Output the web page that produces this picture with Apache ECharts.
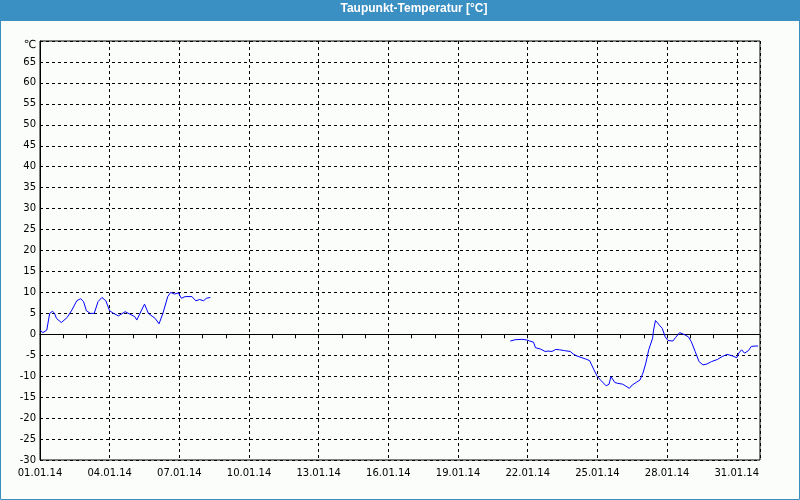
<!DOCTYPE html>
<html>
<head>
<meta charset="utf-8">
<script src="https://cdn.jsdelivr.net/npm/echarts@6/dist/echarts.min.js"></script>
<style>
html,body{margin:0;padding:0;background:#fbfdfb;}
#chart{width:800px;height:500px;}
</style>
</head>
<body>
<div id="chart"></div>
<script>
// Hours since 01.01.14 00:00 and dew point values [°C]
var seg1Hours = [0,3,7,10,13,15,17,22,28,33,38,42,45,48,52,56,60,64,68,72,76,81,88,93,98,100,105,108,112,119,123,127,132,135,139,143,146,150,157,161,165,169,172,176];
var seg1Temps = [1.0,0.4,1.0,5.0,5.5,5.0,3.8,2.8,4.0,5.8,8.0,8.5,7.8,5.6,5.0,5.0,7.8,8.8,8.0,5.6,5.0,4.4,5.4,4.8,4.2,3.4,5.8,7.2,5.0,3.8,2.5,5.0,9.0,10.0,9.6,9.9,8.6,9.0,9.0,8.0,8.3,8.0,8.6,8.8];
var seg2Hours = [486,491,498,503,506,510,512,517,522,525,529,533,537,542,548,551,555,560,564,568,570,573,576,580,585,588,590,592,594,597,602,605,609,612,616,620,623,626,629,633,634,636,638,640,643,646,649,654,657,661,666,670,673,677,681,685,689,694,696,700,705,710,715,720,722,725,728,732,735,739,742];
var seg2Temps = [-1.6,-1.3,-1.2,-1.35,-1.6,-1.9,-3.2,-3.5,-4.1,-4.0,-4.1,-3.6,-3.7,-3.9,-4.1,-4.7,-5.2,-5.6,-5.9,-6.3,-7.3,-8.75,-10.1,-11.1,-12.3,-11.9,-10.1,-10.5,-11.5,-11.7,-11.9,-12.3,-12.9,-12.1,-11.5,-10.9,-9.3,-6.9,-3.7,-0.95,1.0,3.3,3.2,2.2,1.4,-0.6,-1.5,-1.6,-0.7,0.4,-0.1,-0.6,-1.75,-4.1,-6.5,-7.3,-7.1,-6.5,-6.8,-6.0,-5.3,-4.8,-5.1,-5.6,-4.5,-3.7,-4.5,-3.9,-2.9,-2.8,-2.8];
var yMin = -30, yMax = 70, yStep = 5;
var dayCount = 31;

function pairs(hours, temps) {
  return hours.map(function (h, i) { return [h / 24, temps[i]]; });
}
function dayLabel(d) {
  var n = Math.round(d) + 1;
  return (n < 10 ? '0' + n : '' + n) + '.01.14';
}

var blue = '#3a8fc3';
var chart = echarts.init(document.getElementById('chart'), null, {renderer: 'canvas'});
var lineStyle = {color: '#0000ff', width: 1};
chart.setOption({
  backgroundColor: '#fbfdfb',
  animation: false,
  graphic: [
    {type: 'rect', z: -10, shape: {x: 0, y: 0, width: 800, height: 21}, style: {fill: blue}},
    {type: 'rect', z: -10, shape: {x: 0.5, y: 0.5, width: 799, height: 499}, style: {fill: null, stroke: blue, lineWidth: 1}}
  ],
  title: {
    text: 'Taupunkt-Temperatur [°C]',
    left: 414, top: 3, textAlign: 'center', padding: 0,
    textStyle: {color: '#ffffff', fontSize: 12, fontWeight: 'bold', fontFamily: 'Liberation Sans'}
  },
  grid: {left: 40, top: 41, right: 40, bottom: 40, show: true, borderColor: '#000', borderWidth: 1, backgroundColor: 'transparent'},
  xAxis: [
    {
      type: 'value', min: 0, max: dayCount, interval: 1,
      axisLine: {lineStyle: {color: '#000', width: 1}},
      axisTick: {show: true, length: 4, lineStyle: {color: '#000'}},
      axisLabel: {
        color: '#000', fontSize: 10, fontFamily: 'DejaVu Sans', margin: 8,
        showMaxLabel: false,
        formatter: function (v) { return (v % 3 === 0 && v < dayCount) ? dayLabel(v) : ''; }
      },
      splitLine: {show: false}
    },
    {
      type: 'value', min: 0, max: dayCount, interval: 3, position: 'bottom',
      axisLine: {show: false}, axisTick: {show: false}, axisLabel: {show: false},
      splitLine: {show: true, lineStyle: {color: '#000', type: [3, 3], width: 1}}
    }
  ],
  yAxis: {
    type: 'value', min: yMin, max: yMax, interval: yStep,
    axisLine: {show: true, lineStyle: {color: '#000', width: 1}},
    axisTick: {show: false},
    axisLabel: {
      color: '#000', fontSize: 10, fontFamily: 'DejaVu Sans', margin: 4,
      formatter: function (v) { return v === yMax ? '{u|℃}' : String(v); },
      rich: {u: {fontSize: 11, fontFamily: 'DejaVu Sans', color: '#000', padding: [9, 0, 0, 0]}}
    },
    splitLine: {show: true, lineStyle: {color: '#000', type: [3, 3], width: 1}}
  },
  series: [
    {type: 'line', xAxisIndex: 0, data: pairs(seg1Hours, seg1Temps), showSymbol: false, symbol: 'none', lineStyle: lineStyle, itemStyle: {color: '#0000ff'}},
    {type: 'line', xAxisIndex: 0, data: pairs(seg2Hours, seg2Temps), showSymbol: false, symbol: 'none', lineStyle: lineStyle, itemStyle: {color: '#0000ff'}}
  ]
});
</script>
</body>
</html>
